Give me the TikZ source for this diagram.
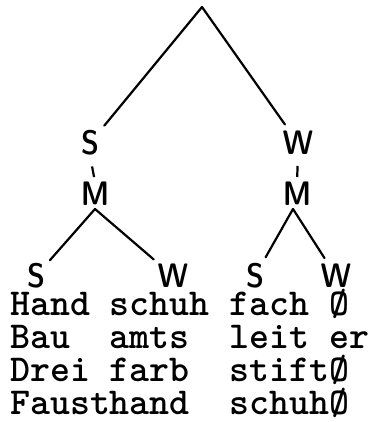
\documentclass[tikz,border=0pt]{standalone}
\usetikzlibrary{positioning}
\tikzset{
	lab/.style={font=\sffamily\fontseries{sbc}\fontsize{34}{34}\selectfont, inner sep=0pt},
	branch/.style={line width=2.2pt, line cap=round},
	tick/.style={line width=2.2pt, shorten <=11pt, shorten >=5pt},
	wordrow/.style={anchor=base west, inner sep=0pt, font=\ttfamily\bfseries\fontsize{38}{38}\selectfont}
}
\begin{document}
\begin{tikzpicture}[x=1pt,y=-1pt]
	\useasboundingbox (0,0) rectangle (368,422);
	% upper level
	\coordinate (root) at (202,7);
	\node[lab] (S1) at (90,143) {S};
	\node[lab] (W1) at (298,143) {W};
	\node[lab] (M1) at (95,194) {M};
	\node[lab] (M2) at (297,194) {M};
	\draw[branch, shorten >=8pt] (root) -- (S1);
	\draw[branch, shorten >=8pt] (root) -- (W1);
	\draw[tick] (S1.south) -- (M1.north);
	\draw[tick] (W1.south) -- (M2.north);
	% lower level
	\coordinate (a1) at (95,209);
	\coordinate (a2) at (293,209);
	\node[lab] (S11) at (36,276) {S};
	\node[lab] (W12) at (173,276) {W};
	\node[lab] (S21) at (255,276) {S};
	\node[lab] (W22) at (336,276) {W};
	\draw[branch, shorten >=7pt] (a1) -- (S11);
	\draw[branch, shorten >=7pt] (a1) -- (W12);
	\draw[branch, shorten >=7pt] (a2) -- (S21);
	\draw[branch, shorten >=7pt] (a2) -- (W22);
	% word rows
	\foreach \txt [count=\i] in {Hand schuh fach Ø, Bau~~amts~~leit er, Drei farb~~stiftØ, Fausthand~~schuhØ}
		\node[wordrow] (row\i) at (10,282+33*\i) {\txt};
\end{tikzpicture}
\end{document}
